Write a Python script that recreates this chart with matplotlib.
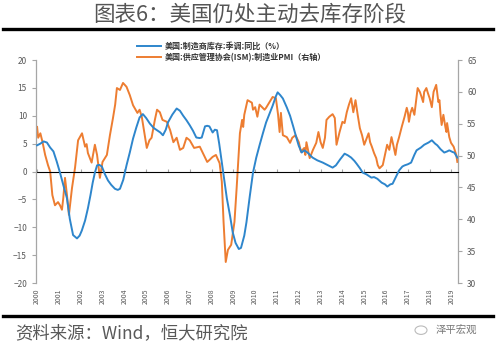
import matplotlib
matplotlib.use("Agg")
import matplotlib.pyplot as plt
from matplotlib.lines import Line2D
from matplotlib.patches import Circle

plt.rcParams['font.family'] = ['Noto Sans CJK SC', 'DejaVu Sans']

# ---- data (decimal years) ----
inv_t = [2000.0, 2000.15, 2000.3, 2000.45, 2000.6, 2000.75, 2000.9, 2001.05, 2001.2, 2001.37,
         2001.5, 2001.65, 2001.83, 2001.95, 2002.05, 2002.2, 2002.33, 2002.45, 2002.55, 2002.65,
         2002.75, 2002.85, 2002.97, 2003.1, 2003.25, 2003.4, 2003.57, 2003.7, 2003.8, 2003.95,
         2004.1, 2004.25, 2004.4, 2004.55, 2004.7, 2004.85, 2005.0, 2005.17, 2005.35, 2005.5,
         2005.65, 2005.77, 2005.9, 2006.0, 2006.2, 2006.4, 2006.55, 2006.7, 2006.85, 2007.0,
         2007.15, 2007.3, 2007.45, 2007.55, 2007.7, 2007.8, 2007.9, 2008.05, 2008.15, 2008.25,
         2008.35, 2008.47, 2008.6, 2008.7, 2008.85, 2008.97, 2009.1, 2009.25, 2009.35, 2009.5,
         2009.6, 2009.75, 2009.9, 2010.05, 2010.2, 2010.35, 2010.5, 2010.65, 2010.8, 2010.95,
         2011.03, 2011.15, 2011.27, 2011.45, 2011.6, 2011.75, 2011.9, 2012.0, 2012.13, 2012.25,
         2012.4, 2012.5, 2012.63, 2012.85, 2013.1, 2013.3, 2013.55, 2013.7, 2013.9, 2014.1,
         2014.25, 2014.4, 2014.55, 2014.65, 2014.8, 2014.93, 2015.1, 2015.33, 2015.45, 2015.6,
         2015.8, 2015.95, 2016.06, 2016.2, 2016.3, 2016.45, 2016.6, 2016.75, 2016.85, 2017.0,
         2017.15, 2017.3, 2017.4, 2017.6, 2017.75, 2017.95, 2018.1, 2018.25, 2018.35, 2018.5,
         2018.67, 2018.8, 2018.9, 2019.05, 2019.13, 2019.27]
inv_v = [4.7, 5.0, 5.4, 5.2, 4.3, 3.6, 1.8, -0.2, -2.4, -4.8,
         -8.5, -11.4, -12.0, -11.5, -10.6, -8.8, -6.6, -4.2, -2.0, -0.2,
         1.1, 1.2, 0.9, -0.4, -1.6, -2.4, -3.1, -3.3, -3.1, -1.5,
         1.1, 3.4, 5.9, 7.9, 9.7, 10.3, 9.6, 8.6, 7.8, 7.4,
         7.0, 6.5, 7.5, 8.8, 10.2, 11.3, 10.9, 10.0, 9.2, 8.3,
         7.3, 6.1, 6.0, 6.1, 8.1, 8.2, 8.1, 7.0, 7.5, 7.4,
         5.0, 1.6, -2.0, -4.8, -8.0, -10.9, -12.8, -13.9, -13.7, -11.5,
         -9.1, -4.5, -0.2, 2.5, 4.7, 6.8, 8.8, 10.3, 11.8, 13.5,
         14.2, 13.7, 13.1, 11.5, 10.0, 8.0, 5.9, 4.6, 3.4, 3.8,
         3.4, 3.0, 2.5, 2.0, 1.6, 1.2, 0.7, 1.1, 2.2, 3.2,
         2.9, 2.5, 1.9, 1.4, 0.6, -0.2, -0.5, -1.1, -1.0, -1.3,
         -2.0, -2.3, -2.7, -2.3, -2.2, -1.0, 0.2, 0.9, 1.1, 1.3,
         1.6, 3.0, 3.8, 4.3, 4.8, 5.2, 5.6, 5.0, 4.7, 4.0,
         3.4, 3.6, 3.8, 3.5, 3.4, 2.5]

pmi_t = [2000.0, 2000.05, 2000.15, 2000.25, 2000.37, 2000.5, 2000.6, 2000.7, 2000.82, 2000.96,
         2001.05, 2001.14, 2001.2, 2001.28, 2001.37, 2001.46, 2001.6, 2001.74, 2001.88, 2002.06,
         2002.2, 2002.27, 2002.33, 2002.5, 2002.65, 2002.75, 2002.88, 2003.0, 2003.2, 2003.34,
         2003.48, 2003.58, 2003.66, 2003.8, 2003.94, 2004.1, 2004.25, 2004.4, 2004.6, 2004.7,
         2004.8, 2004.95, 2005.03, 2005.15, 2005.25, 2005.4, 2005.5, 2005.63, 2005.75, 2005.95,
         2006.1, 2006.25, 2006.4, 2006.55, 2006.7, 2006.85, 2007.0, 2007.2, 2007.46, 2007.6,
         2007.8, 2007.9, 2008.05, 2008.2, 2008.37, 2008.47, 2008.55, 2008.65, 2008.75, 2008.9,
         2009.05, 2009.15, 2009.3, 2009.4, 2009.45, 2009.5, 2009.65, 2009.85, 2009.9, 2010.0,
         2010.1, 2010.2, 2010.43, 2010.5, 2010.66, 2010.8, 2010.95, 2011.05, 2011.12, 2011.18,
         2011.27, 2011.45, 2011.6, 2011.7, 2011.85, 2012.0, 2012.1, 2012.25, 2012.3, 2012.35,
         2012.5, 2012.65, 2012.8, 2012.9, 2013.0, 2013.1, 2013.2, 2013.27, 2013.4, 2013.55,
         2013.65, 2013.73, 2013.87, 2014.0, 2014.1, 2014.2, 2014.3, 2014.4, 2014.5, 2014.6,
         2014.7, 2014.8, 2014.9, 2015.0, 2015.2, 2015.27, 2015.35, 2015.45, 2015.55, 2015.62,
         2015.7, 2015.85, 2015.95, 2016.05, 2016.15, 2016.25, 2016.33, 2016.43, 2016.5, 2016.6,
         2016.72, 2016.85, 2016.95, 2017.0, 2017.05, 2017.12, 2017.2, 2017.3, 2017.37, 2017.45,
         2017.55, 2017.63, 2017.7, 2017.75, 2017.85, 2017.92, 2018.0, 2018.1, 2018.18, 2018.3,
         2018.35, 2018.4, 2018.45, 2018.5, 2018.55, 2018.63, 2018.72, 2018.77, 2018.8, 2018.9,
         2018.98, 2019.1, 2019.22, 2019.27]
pmi_v = [54.5, 52.8, 53.5, 52.1, 50.1, 48.5, 47.5, 43.8, 42.2, 42.7,
         42.2, 41.5, 43.3, 46.5, 43.8, 40.7, 44.9, 48.1, 52.4, 53.5,
         51.4, 51.8, 50.4, 48.9, 51.7, 50.1, 46.5, 49.0, 50.1, 53.2,
         55.9, 58.0, 60.6, 60.3, 61.4, 60.8, 59.5, 57.9, 56.7, 57.2,
         56.1, 52.9, 51.2, 52.4, 52.8, 55.6, 57.2, 56.8, 55.6, 55.3,
         54.0, 52.1, 52.8, 50.9, 51.2, 52.8, 52.4, 51.2, 51.4, 50.4,
         49.0, 49.3, 49.8, 50.1, 48.8, 45.9, 39.6, 33.3, 35.2, 36.0,
         39.6, 44.9, 53.5, 55.6, 54.5, 56.4, 58.7, 58.3, 57.2, 57.6,
         56.1, 58.0, 57.2, 57.5, 58.4, 59.2, 59.0, 56.4, 53.7, 56.7,
         53.2, 52.9, 52.0, 52.8, 53.2, 52.1, 50.6, 51.2, 50.1, 52.1,
         49.6, 50.9, 52.0, 53.7, 52.1, 51.2, 52.8, 55.6, 56.1, 56.5,
         55.9, 51.7, 53.7, 55.3, 55.1, 56.8, 58.0, 59.0, 56.8, 58.7,
         56.4, 54.3, 53.2, 51.7, 53.5, 52.1, 51.4, 50.4, 49.6, 48.5,
         48.0, 48.5, 50.1, 51.7, 50.9, 52.9, 51.7, 50.1, 51.7, 52.9,
         54.5, 56.1, 57.5, 56.8, 55.3, 56.7, 57.5, 56.4, 58.3, 60.6,
         60.0, 59.2, 58.4, 60.0, 60.6, 59.8, 59.0, 57.6, 60.0, 61.1,
         59.8, 58.4, 58.7, 56.4, 54.8, 56.4, 54.5, 53.7, 55.1, 52.9,
         52.0, 51.4, 50.1, 49.0]

years = list(range(2000, 2020))
left_ticks = [-20, -15, -10, -5, 0, 5, 10, 15, 20]
right_ticks = [30, 35, 40, 45, 50, 55, 60, 65]

label_inv = "美国:制造商库存:季调:同比（%）"
label_pmi = "美国:供应管理协会(ISM):制造业PMI（右轴）"
title = "图表6：美国仍处主动去库存阶段"
source = "资料来源：Wind，恒大研究院"

BLUE = "#2E86CC"
ORANGE = "#ED7D31"
GRID = "#A6A6A6"
TXT = "#595959"

fig = plt.figure(figsize=(5.0, 3.52), dpi=100)
ax = fig.add_axes([0.072, 0.196, 0.844, 0.6335])
ax2 = ax.twinx()

l1, = ax.plot(inv_t, inv_v, color=BLUE, lw=1.4, zorder=3)
l2, = ax2.plot(pmi_t, pmi_v, color=ORANGE, lw=1.4, zorder=2)
ax.set_zorder(ax2.get_zorder() + 1)
ax.patch.set_visible(False)

ax.set_xlim(1999.95, 2019.3)
ax.set_ylim(-20, 20)
ax2.set_ylim(30, 65)
ax.set_yticks(left_ticks)
ax2.set_yticks(right_ticks)
ax.set_xticks(years)
ax.set_xticklabels([str(y) for y in years], rotation=90, fontsize=5, color=TXT)
ax.tick_params(axis='x', length=0, pad=4)
ax.tick_params(axis='y', labelsize=6, colors=TXT, length=3, color=GRID, width=0.8)
ax2.tick_params(axis='y', labelsize=6, colors=TXT, length=3, color=GRID, width=0.8)

for a in (ax, ax2):
    a.spines['top'].set_visible(False)
    a.spines['bottom'].set_visible(False)
ax.spines['right'].set_visible(False)
ax.spines['left'].set_color(GRID)
ax2.spines['left'].set_visible(False)
ax2.spines['right'].set_color(GRID)
ax.spines['left'].set_linewidth(0.9)
ax2.spines['right'].set_linewidth(0.9)

sec = ax.secondary_xaxis(0.5)
sec.set_xticks(years)
sec.set_xticklabels([])
sec.tick_params(axis='x', length=2, color=GRID, width=0.8, direction='out')
sec.spines['bottom'].set_color(GRID)
sec.spines['bottom'].set_linewidth(1.2)

leg = fig.legend([l1, l2], [label_inv, label_pmi], loc='upper left',
                 bbox_to_anchor=(0.265, 0.895), frameon=False, fontsize=5.8,
                 handlelength=3.0, handletextpad=0.4, labelspacing=0.25,
                 borderpad=0.1)
for t in leg.get_texts():
    t.set_color("#333333")
    t.set_fontweight('bold')

fig.text(0.5, 0.958, title, ha='center', va='center', fontsize=15.5, color="#555555")
fig.add_artist(Line2D([0.006, 0.986], [0.918, 0.918], color='black', lw=2.4))
fig.add_artist(Line2D([0.006, 0.986], [0.103, 0.103], color='black', lw=2.4))
fig.text(0.03, 0.053, source, ha='left', va='center', fontsize=12.5, color="#595959",
         style='italic')
fig.add_artist(Circle((0.842, 0.062), 0.012, transform=fig.transFigure,
                      facecolor='none', edgecolor='#BBBBBB', lw=0.8))
fig.text(0.872, 0.062, "泽平宏观", ha='left', va='center', fontsize=7.5, color="#777777")

fig.savefig("out.png", dpi=100)
